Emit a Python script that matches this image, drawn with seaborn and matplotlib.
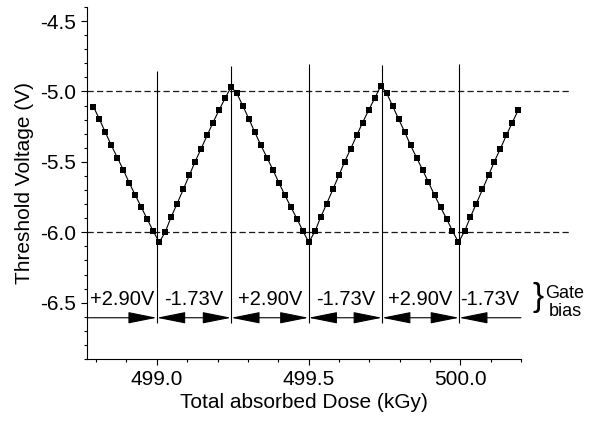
import matplotlib
matplotlib.use("Agg")
import matplotlib.pyplot as plt
from matplotlib.patches import FancyArrowPatch, ArrowStyle
from matplotlib.ticker import MultipleLocator, FormatStrFormatter
import seaborn as sns

# values
dose = [
    498.791, 498.811, 498.830, 498.850, 498.870, 498.890, 498.909, 498.929,
    498.949, 498.968, 498.988, 499.008, 499.028, 499.047, 499.067, 499.087,
    499.107, 499.126, 499.146, 499.166, 499.185, 499.205, 499.225, 499.245,
    499.264, 499.284, 499.304, 499.323, 499.343, 499.363, 499.383, 499.402,
    499.422, 499.442, 499.462, 499.481, 499.501, 499.521, 499.540, 499.560,
    499.580, 499.600, 499.619, 499.639, 499.659, 499.678, 499.698, 499.718,
    499.738, 499.757, 499.777, 499.797, 499.817, 499.836, 499.856, 499.876,
    499.895, 499.915, 499.935, 499.955, 499.974, 499.994, 500.014, 500.033,
    500.053, 500.073, 500.093, 500.112, 500.132, 500.152, 500.171, 500.191,
]
vth = [
    -5.107, -5.197, -5.288, -5.382, -5.470, -5.558, -5.648, -5.736,
    -5.822, -5.905, -5.991, -6.071,
    -5.997, -5.893, -5.796, -5.696, -5.596, -5.499, -5.406, -5.311,
    -5.221, -5.133, -5.048, -4.967,
    -5.014, -5.105, -5.197, -5.290, -5.382, -5.470, -5.558, -5.647,
    -5.736, -5.822, -5.905, -5.990, -6.071,
    -5.994, -5.893, -5.796, -5.696, -5.596, -5.499, -5.406, -5.311,
    -5.221, -5.133, -5.048, -4.960,
    -5.010, -5.103, -5.197, -5.288, -5.382, -5.470, -5.558, -5.644,
    -5.736, -5.822, -5.905, -5.990, -6.071,
    -5.993, -5.893, -5.796, -5.696, -5.596, -5.499, -5.406, -5.311,
    -5.221, -5.133,
]
switch_dose = [499.000, 499.245, 499.500, 499.742, 499.996]
switch_top = [-4.855, -4.820, -4.806, -4.813, -4.806]
bias_labels = ["+2.90V", "-1.73V", "+2.90V", "-1.73V", "+2.90V", "-1.73V"]
ref_levels = [-5.0, -6.0]

XMIN, XMAX = 498.77, 500.2
YMIN, YMAX = -6.9, -4.4
ARROW_Y = -6.607

sns.set_style("ticks")
plt.rcParams["font.family"] = ["Liberation Sans", "DejaVu Sans"]
plt.rcParams["axes.unicode_minus"] = False
plt.rcParams["text.color"] = "black"
plt.rcParams["axes.labelcolor"] = "black"

fig = plt.figure(figsize=(5.91, 4.22), dpi=100)
ax = fig.add_axes([87 / 591, 1 - 359 / 422, (521 - 87) / 591, (359 - 7) / 422])

sns.lineplot(x=dose, y=vth, ax=ax, color="black", linewidth=0.8,
             marker="s", markersize=4.9, markeredgewidth=0,
             markerfacecolor="black")

# reference levels, running past the right end of the axis
for lvl in ref_levels:
    ax.plot([XMIN, 500.361], [lvl, lvl], color="#1a1a1a", lw=0.9,
            ls=(0, (5.0, 2.6)), clip_on=False, zorder=1)

# bias switching points
ax.vlines(switch_dose, [-6.643] * len(switch_dose), switch_top,
          color="black", lw=0.8, zorder=1)

# arrows between switching points
bounds = [XMIN] + switch_dose + [XMAX]
n = len(bounds) - 1
for k in range(n):
    if k == 0:
        st = "-|>"
    elif k == n - 1:
        st = "<|-"
    else:
        st = "<|-|>"
    arr = FancyArrowPatch((bounds[k], ARROW_Y), (bounds[k + 1], ARROW_Y),
                          arrowstyle=ArrowStyle(st, head_length=18, head_width=3.6),
                          mutation_scale=1, shrinkA=0, shrinkB=0,
                          color="black", lw=0.8, clip_on=False)
    ax.add_patch(arr)
    ax.text((bounds[k] + bounds[k + 1]) / 2, -6.515, bias_labels[k],
            ha="center", va="baseline", fontsize=14.5)

ax.text(500.256, -6.462, "}", ha="center", va="center", fontsize=24,
        clip_on=False)
ax.text(500.345, -6.467, "Gate", ha="center", va="baseline", fontsize=13)
ax.text(500.345, -6.593, "bias", ha="center", va="baseline", fontsize=13)

ax.set_xlim(XMIN, XMAX)
ax.set_ylim(YMIN, YMAX)
ax.xaxis.set_major_locator(MultipleLocator(0.5))
ax.xaxis.set_minor_locator(MultipleLocator(0.1))
ax.yaxis.set_major_locator(MultipleLocator(0.5))
ax.yaxis.set_minor_locator(MultipleLocator(0.1))
ax.xaxis.set_major_formatter(FormatStrFormatter("%.1f"))
ax.yaxis.set_major_formatter(FormatStrFormatter("%.1f"))
ax.tick_params(which="major", direction="out", length=4.5, width=0.8,
               labelsize=15, colors="black")
ax.tick_params(which="minor", direction="out", length=2.5, width=0.8,
               colors="black")
sns.despine(ax=ax)
for side in ["left", "bottom"]:
    ax.spines[side].set_color("black")
    ax.spines[side].set_linewidth(0.8)

ax.set_xlabel("Total absorbed Dose (kGy)", fontsize=15, labelpad=3)
ax.set_ylabel("Threshold Voltage (V)", fontsize=15, labelpad=4)

fig.savefig("out.png", dpi=100)
plt.close(fig)
